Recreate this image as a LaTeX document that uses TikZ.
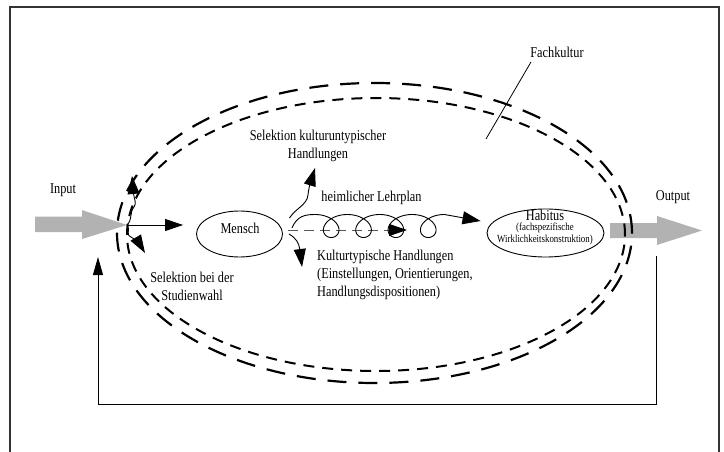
\documentclass[tikz,border=0pt]{standalone}
\usepackage{fontspec}
\setmainfont[FakeStretch=0.82]{Liberation Serif}
\usetikzlibrary{arrows.meta,shapes.geometric}
\tikzset{
 lbl/.style={inner sep=0pt, font=\fontsize{15}{18}\selectfont, align=center},
 lblsmall/.style={inner sep=0pt, font=\fontsize{10.8}{12.5}\selectfont, align=center},
 bigtip/.style={-{Triangle[length=18pt,width=12pt]}},
 conn/.style={line width=0.9pt, black},
 blockarrow/.style={fill=black!30, draw=none},
 outerdash/.style={line width=2.2pt, dash pattern=on 19pt off 12pt},
 innerdash/.style={line width=2pt, dash pattern=on 11pt off 8pt},
 frameline/.style={line width=1.2pt, black!80},
 blob/.style={draw, ellipse, line width=0.9pt, inner sep=0pt},
}
\begin{document}
\begin{tikzpicture}[x=1pt,y=-1pt]
\useasboundingbox (0,0) rectangle (724,452);
\draw[frameline] (10,452) -- (10,7) -- (719,7) -- (719,452);

% gray block arrows
\coordinate (intip) at (127,225);
\fill[blockarrow] (35,216.5) -- (82,216.5) -- (82,210) -- (intip) -- (82,239) -- (82,232) -- (35,232) -- cycle;
\coordinate (outtip) at (702,230.5);
\fill[blockarrow] (610,223) -- (657,223) -- (657,216) -- (outtip) -- (657,245) -- (657,238) -- (610,238) -- cycle;

% Fachkultur ellipses
\draw[outerdash] (374.5,233) ellipse [x radius=257.5pt, y radius=150pt];
\draw[innerdash] (376,234.5) ellipse [x radius=249pt, y radius=136.5pt];

% nodes
\node[blob, minimum width=86pt, minimum height=46pt] (mensch) at (239.5,234) {};
\node[lbl] (menschtxt) at (240,228) {Mensch};
\node[blob, minimum width=117pt, minimum height=48pt] (habitus) at (545.5,233) {};
\node[lbl] (habtxt) at (545,215) {Habitus};
\node[lblsmall] (habsub) at (545,234) {(fachspezifische\\Wirklichkeitskonstruktion)};

\node[lbl] (input) at (63,190) {Input};
\node[lbl] (output) at (673,197) {Output};
\node[lbl] (fach) at (557,52) {Fachkultur};
\node[lbl] (sel1) at (318,146) {Selektion kulturuntypischer\\Handlungen};
\node[lbl] (lehr) at (371.5,198) {heimlicher Lehrplan};
\node[lbl, align=left, anchor=west] (kult) at (317,275) {Kulturtypische Handlungen\\(Einstellungen, Orientierungen,\\Handlungsdispositionen)};
\node[lbl] (stud) at (192,286) {Selektion bei der\\Studienwahl};

% Fachkultur pointer
\coordinate (fachend) at (486,139);
\draw[line width=0.8pt] (531,62) -- (fachend);

% input to Mensch
\draw[conn,bigtip] (intip) -- (intip -| mensch.west) [shorten >=13pt];
\coordinate (upsel) at (132,176);
\draw[conn,bigtip] (intip) .. controls (133,219) and (129,213) .. (134,207) .. controls (137,203) and (134,199) .. (upsel);
\coordinate (downsel) at (145,253);
\draw[conn,bigtip] (intip) .. controls (131,231) and (125,234) .. (131,237) .. controls (136,240) and (139,243) .. (downsel);

% from Mensch
\coordinate (upM) at (315,168);
\draw[conn,bigtip] ([shift={(6.5,-16)}]mensch.east) .. controls (296,208) and (307,205) .. (308,195) .. controls (309,185) and (312,178) .. (upM);
\coordinate (downM) at (302,267);
\draw[conn,bigtip] ([shift={(6,0)}]mensch.east) .. controls (296,238) and (299,243) .. (downM);

\coordinate (dashend) at (407,230);
\draw[line width=1pt, black!65, dash pattern=on 10pt off 6pt] ([shift={(5,-4)}]mensch.east) -- ([xshift=-15pt]dashend);
\draw[conn,bigtip] ([xshift=-17pt]dashend) -- (dashend);

\draw[conn,-{Triangle[length=18pt,width=13pt]}] ([shift={(9,-6)}]mensch.east) .. controls (297,216) and (305,214.5) .. (315,214.5)
  -- plot[domain=0:1440, samples=300, variable=\t] ({315+0.089884*\t+15*sin(\t)},{226-11.5*cos(\t)})
  -- ([shift={(-6,-12)}]habitus.west);

% feedback loop
\coordinate (fbR) at (656,256);
\coordinate (fbL) at (98,257);
\draw[conn, -{Triangle[length=18pt,width=10pt]}] (fbR) -- (656,404) -- (98,404) -- (fbL);
\end{tikzpicture}
\end{document}
